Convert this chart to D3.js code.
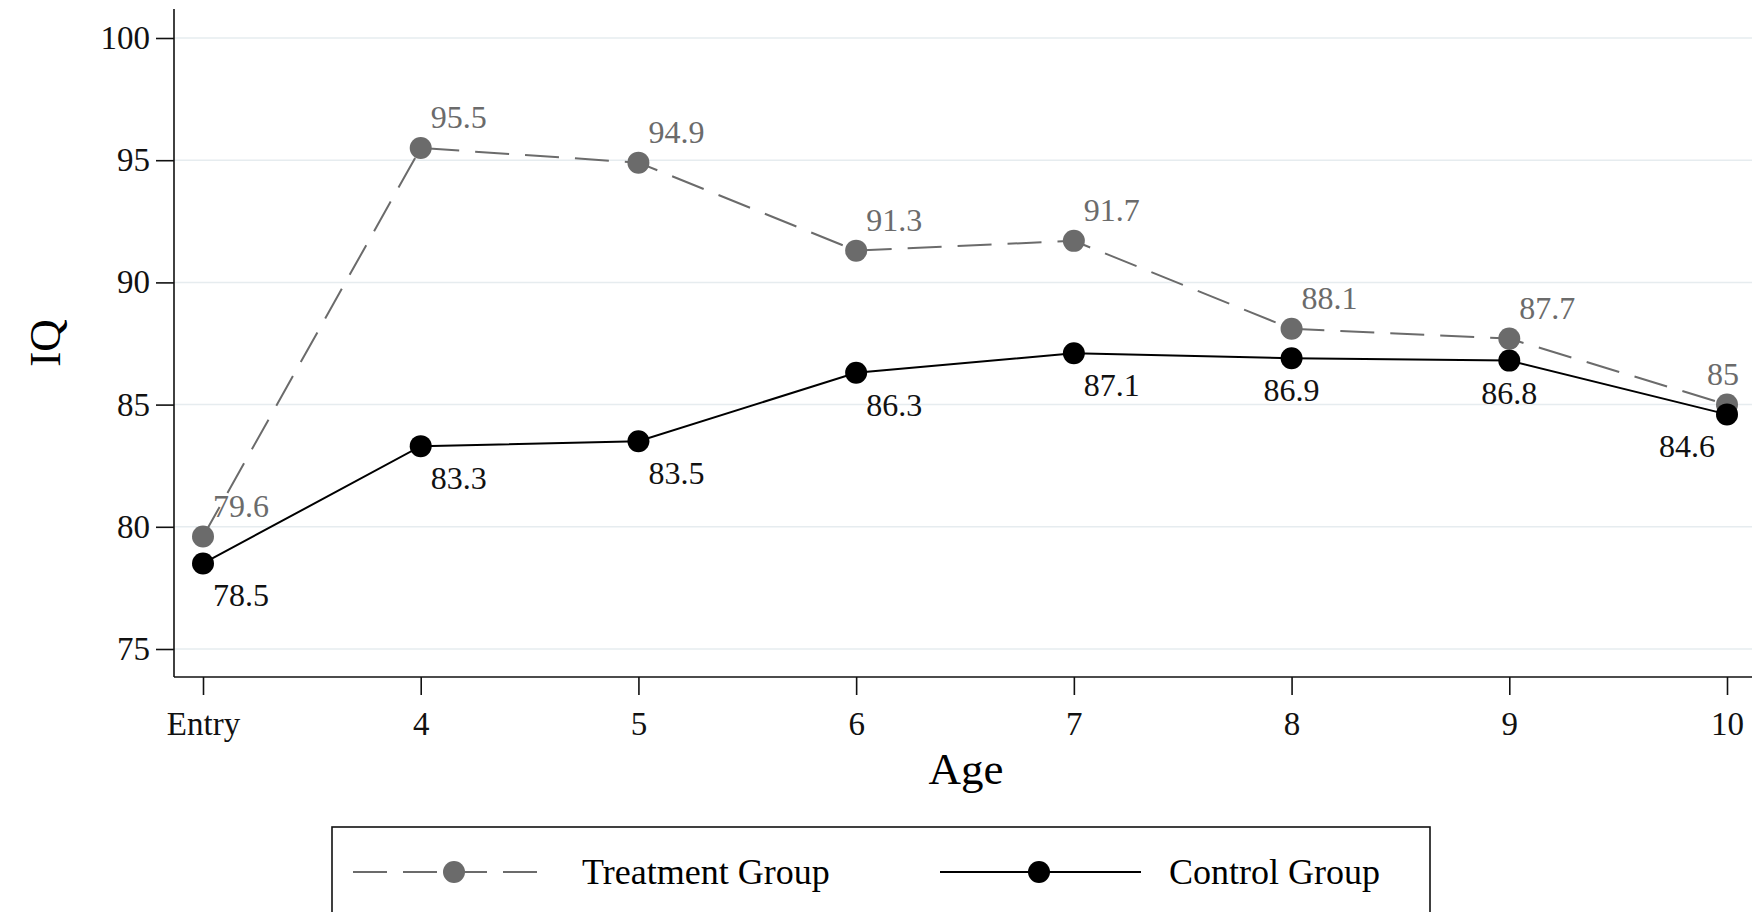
<!DOCTYPE html>
<html><head><meta charset="utf-8">
<script src="https://cdn.jsdelivr.net/npm/d3@7"></script>
<style>body{margin:0;background:#fff}svg{display:block}text{font-family:"Liberation Serif",serif}</style>
</head><body><div id="wrapper"></div>
<script>
const ages = ["Entry", "4", "5", "6", "7", "8", "9", "10"]
const treatment = [79.6, 95.5, 94.9, 91.3, 91.7, 88.1, 87.7, 85]
const control = [78.5, 83.3, 83.5, 86.3, 87.1, 86.9, 86.8, 84.6]
const yTicks = [75, 80, 85, 90, 95, 100]

const width = 1752, height = 912
const svg = d3.select("#wrapper").append("svg").attr("width", width).attr("height", height)

const x = d3.scalePoint().domain(ages).range([203, 1727])
const y = d3.scaleLinear().domain([75, 100]).range([649, 38])

// grid
svg.append("g").selectAll("line").data(yTicks).join("line")
  .attr("x1", 174).attr("x2", width).attr("y1", d => y(d)).attr("y2", d => y(d))
  .attr("stroke", "#e6ecef").attr("stroke-width", 1.5)

const yAxis = svg.append("g").attr("transform", "translate(174,0)")
  .call(d3.axisLeft(y).tickValues(yTicks).tickSize(18).tickPadding(6))
yAxis.select(".domain").attr("d", "M0,9V677")
const xAxis = svg.append("g").attr("transform", "translate(0,677)")
  .call(d3.axisBottom(x).tickSize(18).tickPadding(17))
xAxis.select(".domain").attr("d", "M174,0H1752")
svg.selectAll(".tick text").attr("font-size", 33).attr("fill", "#111")
svg.selectAll(".tick line, .domain").attr("stroke", "#111").attr("stroke-width", 1.6)

svg.append("text").attr("x", 966).attr("y", 784).attr("text-anchor", "middle").attr("font-size", 45).text("Age")
svg.append("text").attr("transform", "translate(60,343) rotate(-90)").attr("text-anchor", "middle").attr("font-size", 45).text("IQ")

const line = d3.line().x((d, i) => x(ages[i])).y(d => y(d))
const tCol = "#6b6b6b"
svg.append("path").attr("d", line(treatment)).attr("fill", "none").attr("stroke", tCol)
  .attr("stroke-width", 2).attr("stroke-dasharray", "34,16")
svg.append("path").attr("d", line(control)).attr("fill", "none").attr("stroke", "#000").attr("stroke-width", 2)

svg.append("g").selectAll("circle").data(treatment).join("circle")
  .attr("cx", (d, i) => x(ages[i])).attr("cy", d => y(d)).attr("r", 11).attr("fill", tCol)
svg.append("g").selectAll("circle").data(control).join("circle")
  .attr("cx", (d, i) => x(ages[i])).attr("cy", d => y(d)).attr("r", 11).attr("fill", "#000")

const last = ages.length - 1
svg.append("g").selectAll("text").data(treatment).join("text")
  .attr("x", (d, i) => x(ages[i]) + (i === last ? -4 : 10))
  .attr("y", d => y(d) - 20)
  .attr("text-anchor", (d, i) => i === last ? "middle" : "start")
  .attr("font-size", 32).attr("fill", tCol).text(d => d)
svg.append("g").selectAll("text").data(control).join("text")
  .attr("x", (d, i) => x(ages[i]) + (i === last ? -12 : (i === 5 || i === 6) ? 0 : 10))
  .attr("y", d => y(d) + 43)
  .attr("text-anchor", (d, i) => i === last ? "end" : (i === 5 || i === 6) ? "middle" : "start")
  .attr("font-size", 32).attr("fill", "#111").text(d => d)

// legend
const lg = svg.append("g")
lg.append("rect").attr("x", 332).attr("y", 827).attr("width", 1098).attr("height", 120)
  .attr("fill", "none").attr("stroke", "#111").attr("stroke-width", 1.6)
const ly = 872
lg.append("line").attr("x1", 353).attr("x2", 539).attr("y1", ly).attr("y2", ly)
  .attr("stroke", tCol).attr("stroke-width", 2).attr("stroke-dasharray", "34,16")
lg.append("circle").attr("cx", 454).attr("cy", ly).attr("r", 11).attr("fill", tCol)
lg.append("text").attr("x", 582).attr("y", ly + 12).attr("font-size", 36).text("Treatment Group")
lg.append("line").attr("x1", 940).attr("x2", 1141).attr("y1", ly).attr("y2", ly).attr("stroke", "#000").attr("stroke-width", 2)
lg.append("circle").attr("cx", 1039).attr("cy", ly).attr("r", 11).attr("fill", "#000")
lg.append("text").attr("x", 1169).attr("y", ly + 12).attr("font-size", 36).text("Control Group")
</script></body></html>
